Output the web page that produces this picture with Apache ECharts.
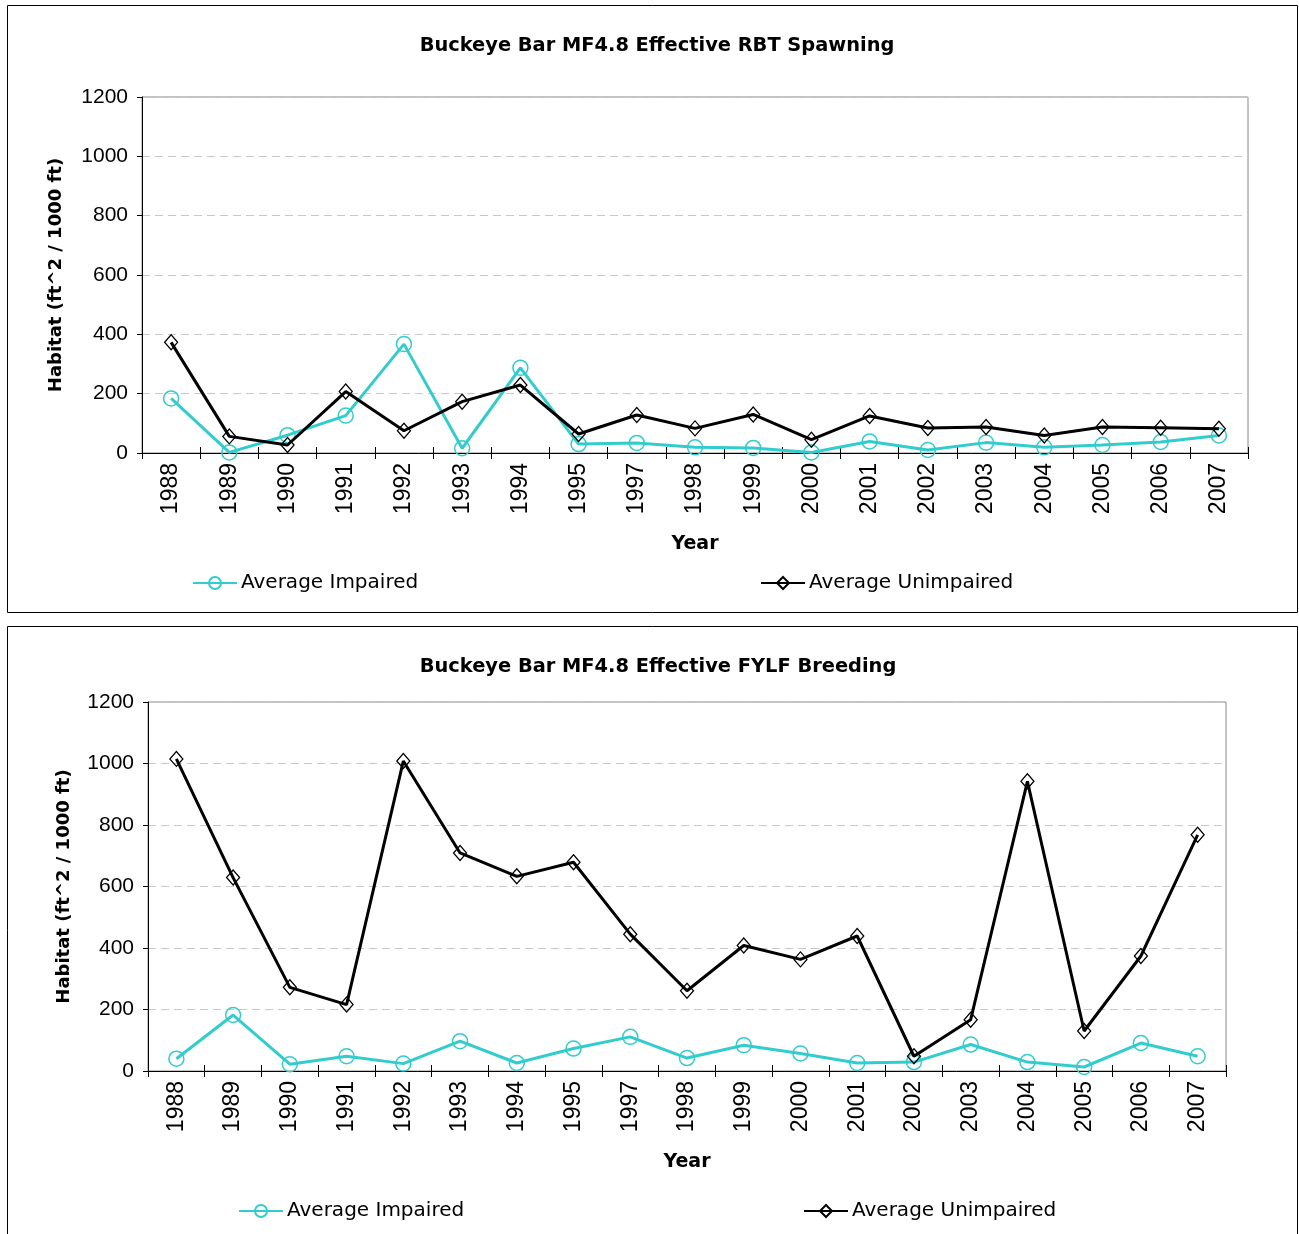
<!DOCTYPE html>
<html>
<head>
<meta charset="utf-8">
<script src="https://cdn.jsdelivr.net/npm/echarts@6/dist/echarts.min.js"></script>
<style>
  html, body { margin: 0; padding: 0; background: #fff; }
  #main { width: 1299px; height: 1234px; }
</style>
</head>
<body>
<div id="main"></div>
<script>
// years on the x axis (1996 is missing in the source)
const years = ['1988', '1989', '1990', '1991', '1992', '1993', '1994', '1995', '1997', '1998',
  '1999', '2000', '2001', '2002', '2003', '2004', '2005', '2006', '2007']
const yTicks = [0, 200, 400, 600, 800, 1000, 1200]

// RBT spawning
const rbtImpaired = [184, 2, 60, 126, 367, 16, 287, 30, 34, 19, 17, 2, 39, 10, 35, 19, 27, 37, 59]
const rbtUnimpaired = [373, 56, 27, 207, 75, 173, 229, 64, 128, 83, 130, 45, 125, 84, 88, 59, 88, 85, 82]

// FYLF breeding
const fylfImpaired = [40, 182, 22, 48, 24, 97, 26, 73, 111, 42, 84, 57, 26, 29, 86, 29, 13, 91, 48]
const fylfUnimpaired = [1015, 629, 272, 216, 1008, 709, 633, 679, 445, 261, 408, 363, 439, 48, 167, 942, 130, 374, 768]

const FONT = 'Liberation Sans'
const WIDE = 'DejaVu Sans'
const TEAL = '#33CCCC'

const myChart = echarts.init(document.getElementById('main'))

function xAxes (gridIndex) {
  return [
    {
      gridIndex,
      type: 'category',
      data: years,
      name: 'Year',
      nameLocation: 'middle',
      nameGap: 82,
      nameTextStyle: { fontFamily: WIDE, fontSize: 19, fontWeight: 'bold', color: '#000' },
      axisLine: { lineStyle: { color: '#000', width: 1 } },
      axisTick: { show: true, inside: true, length: 6, lineStyle: { color: '#000' } },
      axisLabel: { rotate: 90, margin: 10, fontFamily: FONT, fontSize: 23, color: '#000' },
      splitLine: { show: false }
    },
    {
      // second copy only for the ticks that cross under the axis line
      gridIndex,
      type: 'category',
      data: years,
      position: 'bottom',
      axisLine: { show: false },
      axisTick: { show: true, length: 6, lineStyle: { color: '#000' } },
      axisLabel: { show: false },
      splitLine: { show: false }
    }
  ]
}

function yAxis (gridIndex, gap) {
  return {
    gridIndex,
    type: 'value',
    min: yTicks[0],
    max: yTicks[yTicks.length - 1],
    interval: yTicks[1] - yTicks[0],
    name: 'Habitat (ft^2 / 1000 ft)',
    nameLocation: 'middle',
    nameGap: gap,
    nameTextStyle: { fontFamily: WIDE, fontSize: 18, fontWeight: 'bold', color: '#000' },
    axisLine: { show: true, lineStyle: { color: '#000', width: 1 } },
    axisTick: { show: true, length: 5, lineStyle: { color: '#000' } },
    axisLabel: { margin: 14, fontFamily: FONT, fontSize: 21, color: '#000', formatter: v => String(v) },
    splitLine: { show: true, lineStyle: { color: '#c8c8c8', type: [8, 5], width: 1 } }
  }
}

function impaired (name, idx, data) {
  return {
    name,
    type: 'line',
    xAxisIndex: idx * 2,
    yAxisIndex: idx,
    data,
    color: TEAL,
    symbol: 'circle',
    symbolSize: 15,
    lineStyle: { color: TEAL, width: 3 },
    itemStyle: { color: 'rgba(255,255,255,0)', borderColor: TEAL, borderWidth: 1.5 },
    z: 2
  }
}

function unimpaired (name, idx, data) {
  return {
    name,
    type: 'line',
    xAxisIndex: idx * 2,
    yAxisIndex: idx,
    data,
    color: '#000',
    symbol: 'diamond',
    symbolSize: [13, 15],
    lineStyle: { color: '#000', width: 3 },
    itemStyle: { color: 'rgba(255,255,255,0)', borderColor: '#000', borderWidth: 1.3 },
    z: 3
  }
}

function legendItem (name, left, top) {
  return {
    data: [name],
    left,
    top,
    itemWidth: 44,
    itemHeight: 15,
    itemGap: 0,
    textStyle: { fontFamily: WIDE, fontSize: 20, color: '#000', padding: [0, 0, 0, -1] }
  }
}

myChart.setOption({
  animation: false,
  title: [
    {
      text: 'Buckeye Bar MF4.8 Effective RBT Spawning',
      left: 652, textAlign: 'center', top: 31,
      textStyle: { fontFamily: WIDE, fontSize: 19.4, fontWeight: 'bold', color: '#000' }
    },
    {
      text: 'Buckeye Bar MF4.8 Effective FYLF Breeding',
      left: 653, textAlign: 'center', top: 652,
      textStyle: { fontFamily: WIDE, fontSize: 19.4, fontWeight: 'bold', color: '#000' }
    }
  ],
  legend: [
    legendItem('Average Impaired', 187, 568),
    legendItem('Average Unimpaired', 755, 568),
    legendItem('Average Impaired', 233, 1196),
    legendItem('Average Unimpaired', 798, 1196)
  ],
  grid: [
    { left: 142, top: 97, width: 1106, height: 356, show: true, borderColor: '#888', borderWidth: 1 },
    { left: 148, top: 702, width: 1078, height: 369, show: true, borderColor: '#888', borderWidth: 1 }
  ],
  xAxis: [...xAxes(0), ...xAxes(1)],
  yAxis: [yAxis(0, 77), yAxis(1, 75)],
  graphic: [
    { type: 'rect', shape: { x: 7.5, y: 5.5, width: 1290, height: 607 }, style: { fill: 'none', stroke: '#000', lineWidth: 1 }, silent: true },
    { type: 'rect', shape: { x: 7.5, y: 626.5, width: 1290, height: 640 }, style: { fill: 'none', stroke: '#000', lineWidth: 1 }, silent: true }
  ],
  series: [
    impaired('Average Impaired', 0, rbtImpaired),
    unimpaired('Average Unimpaired', 0, rbtUnimpaired),
    impaired('Average Impaired', 1, fylfImpaired),
    unimpaired('Average Unimpaired', 1, fylfUnimpaired)
  ]
})
window.addEventListener('resize', () => {
  myChart.resize()
})
</script>
</body>
</html>
